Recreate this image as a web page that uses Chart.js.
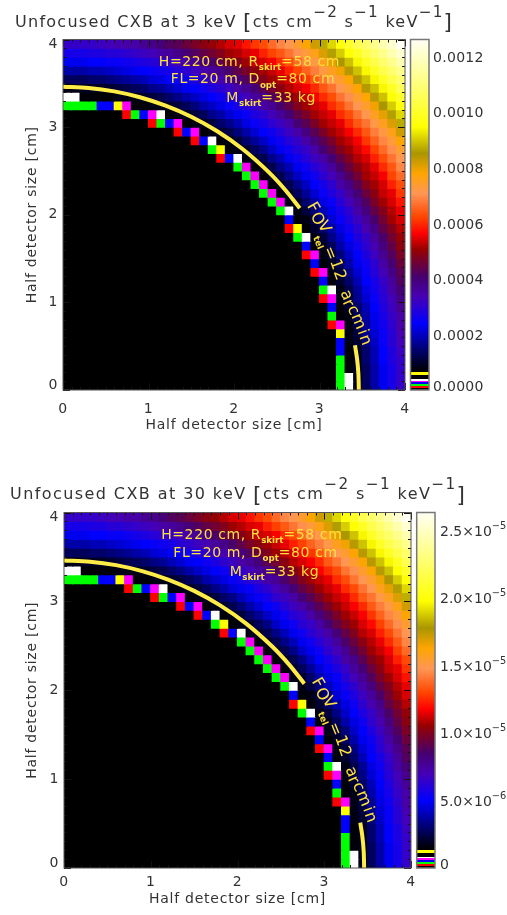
<!DOCTYPE html>
<html>
<head>
<meta charset="utf-8">
<title>Unfocused CXB</title>
<script src="https://cdn.jsdelivr.net/npm/chart.js@4"></script>
<style>
html, body { margin: 0; padding: 0; background: #fff; }
body { position: relative; width: 507px; height: 915px; overflow: hidden; }
canvas { position: absolute; display: block; }
</style>
</head>
<body>
<canvas id="heat3"></canvas>
<canvas id="bar3"></canvas>
<canvas id="heat30"></canvas>
<canvas id="bar30"></canvas>
<script>
// cell centres and edges of the detector map, cm
var cellCenters = [0.05,0.15,0.25,0.35,0.45,0.55,0.65,0.75,0.85,0.95,1.05,1.15,1.25,1.35,1.45,1.55,1.65,1.75,1.85,1.95,2.05,2.15,2.25,2.35,2.45,2.55,2.65,2.75,2.85,2.95,3.05,3.15,3.25,3.35,3.45,3.55,3.65,3.75,3.85,3.95];
var rowEdges = [4,3.9,3.8,3.7,3.6,3.5,3.4,3.3,3.2,3.1,3,2.9,2.8,2.7,2.6,2.5,2.4,2.3,2.2,2.1,2,1.9,1.8,1.7,1.6,1.5,1.4,1.3,1.2,1.1,1,0.9,0.8,0.7,0.6,0.5,0.4,0.3,0.2,0.1,0];

// map at 3 keV, top row first, in units of 1e-5
var cxb3Unit = 1e-5;
var cxb3Max = 0.00126;
var cxb3 = [
[31,31,31,31,32,33,34,35,35,37,38,40,42,43,45,47,49,50,52,54,55,58,61,63,66,69,71,74,78,82,87,91,96,100,105,108,112,117,121,126],
[27,27,27,28,28,29,29,30,31,32,33,35,36,38,40,42,44,46,48,51,52,54,55,59,62,64,67,70,73,76,81,86,90,95,99,104,108,112,117,121],
[23,23,23,24,24,25,25,26,27,28,29,30,31,33,35,37,39,41,44,46,48,51,53,54,56,60,63,66,69,72,75,80,85,89,94,99,104,108,112,117],
[18,18,18,19,19,20,21,22,23,24,25,26,27,29,30,32,34,36,38,41,44,47,49,51,53,55,59,62,65,68,72,75,79,84,89,94,99,104,108,112],
[13,13,13,14,14,15,16,17,18,19,21,22,24,25,26,28,30,31,34,36,39,42,45,48,51,52,54,57,61,64,67,71,74,78,84,89,94,99,104,108],
[8,8,9,9,9,10,11,12,13,14,16,17,19,21,23,24,26,28,30,32,35,37,40,43,46,49,52,54,56,60,64,67,71,74,78,84,89,94,99,105],
[3.7,3.7,7,7,7,7,8,8,8,10,11,12,14,16,18,20,22,24,26,28,30,33,36,38,42,45,48,51,53,56,60,63,67,70,74,78,84,89,95,100],
[1.8,1.8,1.8,1.8,2.5,2.5,5.9,3,7,7,8,8,10,11,13,15,18,20,22,25,27,29,31,35,37,41,44,48,51,53,55,60,63,67,71,74,79,85,90,96],
[0,0,0,0,0,0,0,1.2,1.8,2.5,3,3.7,7,8,9,11,13,16,18,21,23,25,28,30,33,36,40,44,47,51,53,55,60,63,67,71,75,80,86,91],
[0,0,0,0,0,0,0,0,0,0,1.2,1.8,2.5,3,7,8,9,11,14,16,19,22,25,27,30,32,35,40,43,47,51,53,55,60,64,67,72,75,81,87],
[0,0,0,0,0,0,0,0,0,0,0,0,0,1.2,2.5,3,7,8,10,12,15,18,21,24,26,29,32,35,39,43,47,51,53,56,60,64,68,72,76,82],
[0,0,0,0,0,0,0,0,0,0,0,0,0,0,0,1.2,2.5,3.7,7,8,11,14,17,20,23,26,29,31,35,39,43,47,51,53,56,61,65,69,73,78],
[0,0,0,0,0,0,0,0,0,0,0,0,0,0,0,0,0,1.8,5.9,7,8,10,13,16,20,23,26,29,31,35,40,44,48,51,54,57,62,66,70,74],
[0,0,0,0,0,0,0,0,0,0,0,0,0,0,0,0,0,0,1.2,2.5,3.7,8,10,12,16,19,23,26,29,32,35,40,44,48,52,54,59,63,67,71],
[0,0,0,0,0,0,0,0,0,0,0,0,0,0,0,0,0,0,0,0,1.8,3,7,9,12,16,19,23,26,29,32,36,41,45,49,52,55,60,64,69],
[0,0,0,0,0,0,0,0,0,0,0,0,0,0,0,0,0,0,0,0,0,1.8,3,7,9,12,16,20,23,26,30,33,37,42,46,51,53,56,62,66],
[0,0,0,0,0,0,0,0,0,0,0,0,0,0,0,0,0,0,0,0,0,0,1.8,3,7,9,12,16,20,24,27,30,35,38,43,48,51,54,59,63],
[0,0,0,0,0,0,0,0,0,0,0,0,0,0,0,0,0,0,0,0,0,0,0,1.8,3,7,10,13,17,21,25,28,31,36,40,45,49,53,55,61],
[0,0,0,0,0,0,0,0,0,0,0,0,0,0,0,0,0,0,0,0,0,0,0,0,1.8,3,8,10,14,18,22,25,29,33,37,42,47,51,54,58],
[0,0,0,0,0,0,0,0,0,0,0,0,0,0,0,0,0,0,0,0,0,0,0,0,0,1.8,3.7,8,11,15,19,23,27,30,35,39,44,48,52,55],
[0,0,0,0,0,0,0,0,0,0,0,0,0,0,0,0,0,0,0,0,0,0,0,0,0,0,2.5,7,8,12,16,21,25,28,32,36,41,46,51,54],
[0,0,0,0,0,0,0,0,0,0,0,0,0,0,0,0,0,0,0,0,0,0,0,0,0,0,1.2,5.9,7,10,14,18,22,26,30,34,38,44,48,52],
[0,0,0,0,0,0,0,0,0,0,0,0,0,0,0,0,0,0,0,0,0,0,0,0,0,0,0,1.8,3.7,8,11,16,20,24,28,31,36,41,46,50],
[0,0,0,0,0,0,0,0,0,0,0,0,0,0,0,0,0,0,0,0,0,0,0,0,0,0,0,0,2.5,7,9,13,18,22,26,30,34,39,44,49],
[0,0,0,0,0,0,0,0,0,0,0,0,0,0,0,0,0,0,0,0,0,0,0,0,0,0,0,0,1.2,3,8,11,15,20,24,28,32,37,42,47],
[0,0,0,0,0,0,0,0,0,0,0,0,0,0,0,0,0,0,0,0,0,0,0,0,0,0,0,0,0,2.5,7,9,13,18,23,26,30,35,40,45],
[0,0,0,0,0,0,0,0,0,0,0,0,0,0,0,0,0,0,0,0,0,0,0,0,0,0,0,0,0,1.2,3,8,11,16,21,25,29,33,38,43],
[0,0,0,0,0,0,0,0,0,0,0,0,0,0,0,0,0,0,0,0,0,0,0,0,0,0,0,0,0,0,2.5,7,10,14,19,24,27,31,36,42],
[0,0,0,0,0,0,0,0,0,0,0,0,0,0,0,0,0,0,0,0,0,0,0,0,0,0,0,0,0,0,1.8,3.7,8,12,17,22,26,30,35,40],
[0,0,0,0,0,0,0,0,0,0,0,0,0,0,0,0,0,0,0,0,0,0,0,0,0,0,0,0,0,0,1.2,3,8,11,16,21,25,29,33,38],
[0,0,0,0,0,0,0,0,0,0,0,0,0,0,0,0,0,0,0,0,0,0,0,0,0,0,0,0,0,0,0,2.5,7,10,14,19,24,28,32,37],
[0,0,0,0,0,0,0,0,0,0,0,0,0,0,0,0,0,0,0,0,0,0,0,0,0,0,0,0,0,0,0,1.8,7,8,13,18,23,27,31,35],
[0,0,0,0,0,0,0,0,0,0,0,0,0,0,0,0,0,0,0,0,0,0,0,0,0,0,0,0,0,0,0,1.2,3,8,12,17,22,26,30,35],
[0,0,0,0,0,0,0,0,0,0,0,0,0,0,0,0,0,0,0,0,0,0,0,0,0,0,0,0,0,0,0,0,5.9,8,11,16,21,25,29,34],
[0,0,0,0,0,0,0,0,0,0,0,0,0,0,0,0,0,0,0,0,0,0,0,0,0,0,0,0,0,0,0,0,2.5,8,10,15,20,25,29,33],
[0,0,0,0,0,0,0,0,0,0,0,0,0,0,0,0,0,0,0,0,0,0,0,0,0,0,0,0,0,0,0,0,2.5,7,9,14,19,24,28,32],
[0,0,0,0,0,0,0,0,0,0,0,0,0,0,0,0,0,0,0,0,0,0,0,0,0,0,0,0,0,0,0,0,1.8,7,9,14,19,24,28,31],
[0,0,0,0,0,0,0,0,0,0,0,0,0,0,0,0,0,0,0,0,0,0,0,0,0,0,0,0,0,0,0,0,1.8,7,9,13,18,23,27,31],
[0,0,0,0,0,0,0,0,0,0,0,0,0,0,0,0,0,0,0,0,0,0,0,0,0,0,0,0,0,0,0,0,1.8,3.7,8,13,18,23,27,31],
[0,0,0,0,0,0,0,0,0,0,0,0,0,0,0,0,0,0,0,0,0,0,0,0,0,0,0,0,0,0,0,0,1.8,3.7,8,13,18,23,27,31]
];

// map at 30 keV, top row first, in units of 1e-7
var cxb30Unit = 1e-7;
var cxb30Max = 2.63e-5;
var cxb30 = [
[65,65,65,65,67,69,71,73,73,77,79,83,88,90,94,98,102,104,109,113,115,121,127,131,138,144,148,154,163,171,182,190,200,209,219,225,234,244,253,263],
[56,56,56,58,58,61,61,63,65,67,69,73,75,79,83,88,92,96,100,106,109,113,115,123,129,134,140,146,152,159,169,179,188,198,207,217,225,234,244,253],
[48,48,48,50,50,52,52,54,56,58,61,63,65,69,73,77,81,86,92,96,100,106,111,113,117,125,131,138,144,150,157,167,177,186,196,207,217,225,234,244],
[38,38,38,40,40,42,44,46,48,50,52,54,56,61,63,67,71,75,79,86,92,98,102,106,111,115,123,129,136,142,150,157,165,175,186,196,207,217,225,234],
[27,27,27,29,29,31,33,35,38,40,44,46,50,52,54,58,63,65,71,75,81,88,94,100,106,109,113,119,127,134,140,148,154,163,175,186,196,207,217,225],
[17,17,19,19,19,21,23,25,27,29,33,35,40,44,48,50,54,58,63,67,73,77,83,90,96,102,109,113,117,125,134,140,148,154,163,175,186,196,207,219],
[7.7,7.7,15,15,15,15,17,17,17,21,23,25,29,33,38,42,46,50,54,58,63,69,75,79,88,94,100,106,111,117,125,131,140,146,154,163,175,186,198,209],
[3.8,3.8,3.8,3.8,5.2,5.2,12.3,6.3,15,15,17,17,21,23,27,31,38,42,46,52,56,61,65,73,77,86,92,100,106,111,115,125,131,140,148,154,165,177,188,200],
[0,0,0,0,0,0,0,2.5,3.8,5.2,6.3,7.7,15,17,19,23,27,33,38,44,48,52,58,63,69,75,83,92,98,106,111,115,125,131,140,148,157,167,179,190],
[0,0,0,0,0,0,0,0,0,0,2.5,3.8,5.2,6.3,15,17,19,23,29,33,40,46,52,56,63,67,73,83,90,98,106,111,115,125,134,140,150,157,169,182],
[0,0,0,0,0,0,0,0,0,0,0,0,0,2.5,5.2,6.3,15,17,21,25,31,38,44,50,54,61,67,73,81,90,98,106,111,117,125,134,142,150,159,171],
[0,0,0,0,0,0,0,0,0,0,0,0,0,0,0,2.5,5.2,7.7,15,17,23,29,35,42,48,54,61,65,73,81,90,98,106,111,117,127,136,144,152,163],
[0,0,0,0,0,0,0,0,0,0,0,0,0,0,0,0,0,3.8,12.3,15,17,21,27,33,42,48,54,61,65,73,83,92,100,106,113,119,129,138,146,154],
[0,0,0,0,0,0,0,0,0,0,0,0,0,0,0,0,0,0,2.5,5.2,7.7,17,21,25,33,40,48,54,61,67,73,83,92,100,109,113,123,131,140,148],
[0,0,0,0,0,0,0,0,0,0,0,0,0,0,0,0,0,0,0,0,3.8,6.3,15,19,25,33,40,48,54,61,67,75,86,94,102,109,115,125,134,144],
[0,0,0,0,0,0,0,0,0,0,0,0,0,0,0,0,0,0,0,0,0,3.8,6.3,15,19,25,33,42,48,54,63,69,77,88,96,106,111,117,129,138],
[0,0,0,0,0,0,0,0,0,0,0,0,0,0,0,0,0,0,0,0,0,0,3.8,6.3,15,19,25,33,42,50,56,63,73,79,90,100,106,113,123,131],
[0,0,0,0,0,0,0,0,0,0,0,0,0,0,0,0,0,0,0,0,0,0,0,3.8,6.3,15,21,27,35,44,52,58,65,75,83,94,102,111,115,127],
[0,0,0,0,0,0,0,0,0,0,0,0,0,0,0,0,0,0,0,0,0,0,0,0,3.8,6.3,17,21,29,38,46,52,61,69,77,88,98,106,113,121],
[0,0,0,0,0,0,0,0,0,0,0,0,0,0,0,0,0,0,0,0,0,0,0,0,0,3.8,7.7,17,23,31,40,48,56,63,73,81,92,100,109,115],
[0,0,0,0,0,0,0,0,0,0,0,0,0,0,0,0,0,0,0,0,0,0,0,0,0,0,5.2,15,17,25,33,44,52,58,67,75,86,96,106,113],
[0,0,0,0,0,0,0,0,0,0,0,0,0,0,0,0,0,0,0,0,0,0,0,0,0,0,2.5,12.3,15,21,29,38,46,54,63,71,79,92,100,109],
[0,0,0,0,0,0,0,0,0,0,0,0,0,0,0,0,0,0,0,0,0,0,0,0,0,0,0,3.8,7.7,17,23,33,42,50,58,65,75,86,96,104],
[0,0,0,0,0,0,0,0,0,0,0,0,0,0,0,0,0,0,0,0,0,0,0,0,0,0,0,0,5.2,15,19,27,38,46,54,63,71,81,92,102],
[0,0,0,0,0,0,0,0,0,0,0,0,0,0,0,0,0,0,0,0,0,0,0,0,0,0,0,0,2.5,6.3,17,23,31,42,50,58,67,77,88,98],
[0,0,0,0,0,0,0,0,0,0,0,0,0,0,0,0,0,0,0,0,0,0,0,0,0,0,0,0,0,5.2,15,19,27,38,48,54,63,73,83,94],
[0,0,0,0,0,0,0,0,0,0,0,0,0,0,0,0,0,0,0,0,0,0,0,0,0,0,0,0,0,2.5,6.3,17,23,33,44,52,61,69,79,90],
[0,0,0,0,0,0,0,0,0,0,0,0,0,0,0,0,0,0,0,0,0,0,0,0,0,0,0,0,0,0,5.2,15,21,29,40,50,56,65,75,88],
[0,0,0,0,0,0,0,0,0,0,0,0,0,0,0,0,0,0,0,0,0,0,0,0,0,0,0,0,0,0,3.8,7.7,17,25,35,46,54,63,73,83],
[0,0,0,0,0,0,0,0,0,0,0,0,0,0,0,0,0,0,0,0,0,0,0,0,0,0,0,0,0,0,2.5,6.3,17,23,33,44,52,61,69,79],
[0,0,0,0,0,0,0,0,0,0,0,0,0,0,0,0,0,0,0,0,0,0,0,0,0,0,0,0,0,0,0,5.2,15,21,29,40,50,58,67,77],
[0,0,0,0,0,0,0,0,0,0,0,0,0,0,0,0,0,0,0,0,0,0,0,0,0,0,0,0,0,0,0,3.8,15,17,27,38,48,56,65,73],
[0,0,0,0,0,0,0,0,0,0,0,0,0,0,0,0,0,0,0,0,0,0,0,0,0,0,0,0,0,0,0,2.5,6.3,17,25,35,46,54,63,73],
[0,0,0,0,0,0,0,0,0,0,0,0,0,0,0,0,0,0,0,0,0,0,0,0,0,0,0,0,0,0,0,0,12.3,17,23,33,44,52,61,71],
[0,0,0,0,0,0,0,0,0,0,0,0,0,0,0,0,0,0,0,0,0,0,0,0,0,0,0,0,0,0,0,0,5.2,17,21,31,42,52,61,69],
[0,0,0,0,0,0,0,0,0,0,0,0,0,0,0,0,0,0,0,0,0,0,0,0,0,0,0,0,0,0,0,0,5.2,15,19,29,40,50,58,67],
[0,0,0,0,0,0,0,0,0,0,0,0,0,0,0,0,0,0,0,0,0,0,0,0,0,0,0,0,0,0,0,0,3.8,15,19,29,40,50,58,65],
[0,0,0,0,0,0,0,0,0,0,0,0,0,0,0,0,0,0,0,0,0,0,0,0,0,0,0,0,0,0,0,0,3.8,15,19,27,38,48,56,65],
[0,0,0,0,0,0,0,0,0,0,0,0,0,0,0,0,0,0,0,0,0,0,0,0,0,0,0,0,0,0,0,0,3.8,7.7,17,27,38,48,56,65],
[0,0,0,0,0,0,0,0,0,0,0,0,0,0,0,0,0,0,0,0,0,0,0,0,0,0,0,0,0,0,0,0,3.8,7.7,17,27,38,48,56,65]
];

// the 12 arcmin field of view arc, cm
var fovArcX = [0,0.3,0.6,0.9,1.2,1.5,1.8,2.1,2.4,2.6,2.77];
var fovArcY = [3.46,3.447,3.408,3.341,3.245,3.118,2.955,2.75,2.492,2.283,2.074];
var fovEndX = [3.415,3.44,3.455,3.46];
var fovEndY = [0.51,0.35,0.18,0];

var detectorTicks = [0,1,2,3,4];
var detectorMinorTicks = [0.1,0.2,0.3,0.4,0.5,0.6,0.7,0.8,0.9,1.1,1.2,1.3,1.4,1.5,1.6,1.7,1.8,1.9,2.1,2.2,2.3,2.4,2.5,2.6,2.7,2.8,2.9,3.1,3.2,3.3,3.4,3.5,3.6,3.7,3.8,3.9];

var cb3Ticks = [0,0.0002,0.0004,0.0006,0.0008,0.0010,0.0012];
var cb3Labels = ['0.0000','0.0002','0.0004','0.0006','0.0008','0.0010','0.0012'];
var cb30Ticks = [0,5e-6,1e-5,1.5e-5,2e-5,2.5e-5];
var cb30Labels = ['0','5.0×10','1.0×10','1.5×10','2.0×10','2.5×10'];
var cb30Exponents = ['','−6','−5','−5','−5','−5'];

// colour table, position as fraction of the bar
var cmapBands = [
  [0,0.007,'#000000'],[0.007,0.0115,'#ff0000'],[0.0115,0.0175,'#00ff00'],[0.0175,0.0214,'#0000ff'],
  [0.0214,0.027,'#ff00ff'],[0.027,0.0315,'#ffffff'],[0.0315,0.042,'#000000'],[0.042,0.0516,'#ffff00']
];
var cmapStops = [
  [0.0516,0,0,0],[0.076,0,0,40],[0.124,0,0,130],[0.19,0,0,255],[0.266,70,0,180],[0.323,70,0,110],
  [0.40,150,0,0],[0.447,255,0,0],[0.494,255,70,0],[0.561,255,150,85],[0.618,255,165,0],[0.675,170,150,0],
  [0.751,255,255,0],[0.88,255,255,130],[1,255,255,245]
];

var textFont = 'DejaVu Sans';
var textColor = '#333333';
var noteColor = '#ffe13c';

var note1 = [['H=220 cm, R',''],['skirt','sub'],['=58 cm','']];
var note2 = [['FL=20 m, D',''],['opt','sub'],['=80 cm','']];
var note3 = [['M',''],['skirt','sub'],['=33 kg','']];
// rotated label following the arc: text, x cm, y cm, degrees, px
var fovGlyphs = [
  ['F',2.92,2.08,60,16],['O',2.97,1.95,62,16],['V',3.05,1.86,62,16],['tel',2.98,1.68,68,9],
  ['=',3.12,1.56,68,16],['1',3.19,1.43,70,16],['2',3.23,1.31,70,16],
  ['a',3.31,1.08,66,16],['r',3.33,0.99,66,16],['c',3.39,0.91,66,16],['m',3.45,0.78,68,16],['i',3.50,0.66,70,16],['n',3.53,0.57,70,16]
];

function cellColor(frac) {
  for (var b = 0; b < cmapBands.length; b++) {
    if (frac < cmapBands[b][1]) return cmapBands[b][2];
  }
  for (var i = 1; i < cmapStops.length; i++) {
    var s0 = cmapStops[i - 1], s1 = cmapStops[i];
    if (frac <= s1[0]) {
      var t = (frac - s0[0]) / (s1[0] - s0[0]);
      return 'rgb(' + Math.round(s0[1] + t * (s1[1] - s0[1])) + ',' + Math.round(s0[2] + t * (s1[2] - s0[2])) + ',' + Math.round(s0[3] + t * (s1[3] - s0[3])) + ')';
    }
  }
  return 'rgb(255,255,245)';
}

// draws text with raised and lowered pieces
function drawRich(ctx, parts, x, y, size, color, spacing) {
  ctx.save();
  ctx.fillStyle = color;
  ctx.textAlign = 'left';
  ctx.textBaseline = 'alphabetic';
  parts.forEach(function (p) {
    var s = size, dy = 0, gap = spacing;
    if (p[1] === 'sub') { s = size * 0.62; dy = size * 0.3; gap = 0; ctx.font = 'bold ' + s + 'px "' + textFont + '"'; }
    else if (p[1] === 'sup') { s = size * 0.95; dy = -size * 0.62; ctx.font = s + 'px "' + textFont + '"'; }
    else if (p[1] === 'exp') { s = size * 0.7; dy = -size * 0.5; gap = 0; ctx.font = s + 'px "' + textFont + '"'; }
    else if (p[1] === 'big') { s = size * 1.35; dy = size * 0.16; ctx.font = s + 'px "' + textFont + '"'; }
    else ctx.font = s + 'px "' + textFont + '"';
    ctx.letterSpacing = gap + 'px';
    ctx.fillText(p[0], x, y + dy);
    x += ctx.measureText(p[0]).width;
  });
  ctx.restore();
}

function clampLabel(y, area) {
  return Math.max(area.top + 5, Math.min(area.bottom - 5, y));
}

function heatPlugin(titleParts, titleX, titleY, titleSpacing) {
  return {
    id: 'heatDecor',
    beforeDraw: function (chart) { chart.ctx.letterSpacing = '0.75px'; },
    afterDraw: function (chart) {
      var ctx = chart.ctx, a = chart.chartArea, xs = chart.scales.x, ys = chart.scales.y;
      ctx.save();
      // notes and rotated label in data coordinates
      drawRich(ctx, note1, xs.getPixelForValue(1.12), ys.getPixelForValue(3.70), 14, noteColor, 0.6);
      drawRich(ctx, note2, xs.getPixelForValue(1.26), ys.getPixelForValue(3.50), 14, noteColor, 0.6);
      drawRich(ctx, note3, xs.getPixelForValue(1.91), ys.getPixelForValue(3.285), 14, noteColor, 0.6);
      fovGlyphs.forEach(function (g) {
        ctx.save();
        ctx.translate(xs.getPixelForValue(g[1]), ys.getPixelForValue(g[2]));
        ctx.rotate(g[3] * Math.PI / 180);
        ctx.font = (g[4] < 12 ? 'bold ' : '') + g[4] + 'px "' + textFont + '"';
        ctx.letterSpacing = '0px';
        ctx.fillStyle = noteColor;
        ctx.textAlign = 'center';
        ctx.textBaseline = 'middle';
        ctx.fillText(g[0], 0, 0);
        ctx.restore();
      });
      // ticks point inwards on all four sides
      ctx.strokeStyle = '#111';
      ctx.lineWidth = 1;
      ctx.beginPath();
      function tickAt(v, len) {
        var px = Math.round(xs.getPixelForValue(v)) + 0.5, py = Math.round(ys.getPixelForValue(v)) + 0.5;
        ctx.moveTo(px, a.bottom); ctx.lineTo(px, a.bottom - len);
        ctx.moveTo(px, a.top); ctx.lineTo(px, a.top + len);
        ctx.moveTo(a.left, py); ctx.lineTo(a.left + len, py);
        ctx.moveTo(a.right, py); ctx.lineTo(a.right - len, py);
      }
      detectorMinorTicks.forEach(function (v) { tickAt(v, 3); });
      detectorTicks.forEach(function (v) { tickAt(v, 7); });
      ctx.stroke();
      ctx.strokeStyle = '#555';
      ctx.strokeRect(a.left, a.top, a.right - a.left, a.bottom - a.top);
      // y tick labels stay inside the frame height
      ctx.font = '14px "' + textFont + '"';
      ctx.letterSpacing = '0px';
      ctx.fillStyle = textColor;
      ctx.textAlign = 'right';
      ctx.textBaseline = 'middle';
      detectorTicks.forEach(function (v) {
        ctx.fillText(String(v), a.left - 5.5, clampLabel(ys.getPixelForValue(v), a));
      });
      ctx.restore();
      drawRich(ctx, titleParts, titleX, titleY, 16, textColor, titleSpacing);
    }
  };
}

function makeHeat(id, rows, unit, max, box, titleParts, titleX, titleY, titleSpacing, tickPad, xTitlePad) {
  var canvas = document.getElementById(id);
  canvas.width = 507; canvas.height = box.height;
  canvas.style.left = '0px'; canvas.style.top = box.top + 'px';
  canvas.style.width = '507px'; canvas.style.height = box.height + 'px';
  var datasets = rows.map(function (row, t) {
    return {
      data: row.map(function (v, j) { return { x: cellCenters[j], y: [rowEdges[t + 1], rowEdges[t]] }; }),
      backgroundColor: row.map(function (v) { return cellColor(v * unit / max); }),
      grouped: false, barPercentage: 1, categoryPercentage: 1, borderWidth: 0, inflateAmount: 0.6
    };
  });
  datasets.push({ type: 'line', order: -1, data: fovArcX.map(function (x, i) { return { x: x, y: fovArcY[i] }; }),
    borderColor: '#ffec46', borderWidth: 4, pointRadius: 0, tension: 0.3 });
  datasets.push({ type: 'line', order: -1, data: fovEndX.map(function (x, i) { return { x: x, y: fovEndY[i] }; }),
    borderColor: '#ffec46', borderWidth: 4, pointRadius: 0, tension: 0.3 });
  return new Chart(canvas, {
    type: 'bar',
    data: { datasets: datasets },
    plugins: [heatPlugin(titleParts, titleX, titleY, titleSpacing)],
    options: {
      responsive: false, animation: false, devicePixelRatio: 1,
      layout: { autoPadding: false, padding: { left: 0, top: box.areaTop, right: 507 - box.areaRight, bottom: 0 } },
      plugins: { legend: { display: false }, tooltip: { enabled: false }, title: { display: false } },
      scales: {
        x: {
          type: 'linear', min: 0, max: 4, offset: false,
          grid: { display: false }, border: { display: false },
          afterFit: function (s) { s.height = box.height - box.areaBottom; },
          ticks: { stepSize: 1, maxRotation: 0, autoSkip: false, padding: tickPad, color: textColor, font: { family: textFont, size: 14 } },
          title: { display: true, text: 'Half detector size [cm]', color: textColor, font: { family: textFont, size: 14 }, padding: { top: 0, bottom: xTitlePad } }
        },
        y: {
          type: 'linear', min: 0, max: 4, stacked: false,
          grid: { display: false }, border: { display: false },
          afterFit: function (s) { s.width = box.areaLeft; },
          ticks: { display: false },
          title: { display: true, text: 'Half detector size [cm]', color: textColor, font: { family: textFont, size: 14 }, padding: { top: 24, bottom: 0 } }
        }
      }
    }
  });
}

function makeBar(id, max, range, ticks, labels, exponents, box) {
  var canvas = document.getElementById(id);
  canvas.width = box.width; canvas.height = box.height;
  canvas.style.left = box.left + 'px'; canvas.style.top = box.top + 'px';
  canvas.style.width = box.width + 'px'; canvas.style.height = box.height + 'px';
  return new Chart(canvas, {
    type: 'bar',
    data: {
      labels: [''],
      datasets: [{
        data: [range],
        barPercentage: 1, categoryPercentage: 1, borderWidth: 0,
        backgroundColor: function (c) {
          var a = c.chart.chartArea;
          if (!a) return '#000';
          var g = c.chart.ctx.createLinearGradient(0, a.bottom, 0, a.top);
          cmapBands.forEach(function (b) { g.addColorStop(b[0], b[2]); g.addColorStop(b[1], b[2]); });
          cmapStops.forEach(function (s) { g.addColorStop(s[0], 'rgb(' + s[1] + ',' + s[2] + ',' + s[3] + ')'); });
          return g;
        }
      }]
    },
    plugins: [{
      id: 'barDecor',
      afterDraw: function (chart) {
        var ctx = chart.ctx, a = chart.chartArea, ys = chart.scales.y;
        ctx.save();
        ctx.strokeStyle = '#777';
        ctx.lineWidth = 1.5;
        ctx.strokeRect(a.left, a.top, a.right - a.left, a.bottom - a.top);
        ctx.restore();
        ticks.forEach(function (v, i) {
          var y = clampLabel(ys.getPixelForValue(v), a) + 5.5;
          var parts = [[labels[i], '']];
          if (exponents[i]) parts.push([exponents[i], 'exp']);
          drawRich(ctx, parts, a.right + box.labelGap, y, 14, textColor, box.labelSpacing);
        });
      }
    }],
    options: {
      responsive: false, animation: false, devicePixelRatio: 1,
      layout: { autoPadding: false, padding: { left: box.areaLeft, top: box.areaTop, right: box.width - box.areaRight, bottom: box.height - box.areaBottom } },
      plugins: { legend: { display: false }, tooltip: { enabled: false } },
      scales: {
        x: { display: false },
        y: { display: false, min: 0, max: max }
      }
    }
  });
}

var title3 = [['Unfocused CXB at 3 keV ',''],['[','big'],['cts cm',''],['−2','sup'],[' s',''],['−1','sup'],[' keV',''],['−1','sup'],[']','big']];
var title30 = [['Unfocused CXB at 30 keV ',''],['[','big'],['cts cm',''],['−2','sup'],[' s',''],['−1','sup'],[' keV',''],['−1','sup'],[']','big']];

makeHeat('heat3', cxb3, cxb3Unit, cxb3Max, { top: 0, height: 450, areaLeft: 63, areaRight: 405, areaTop: 39.5, areaBottom: 390 }, title3, 15, 26.7, 1.27, 2.5, 16.6);
makeBar('bar3', cxb3Max, [0, cxb3Max], cb3Ticks, cb3Labels, ['', '', '', '', '', '', ''], { left: 405, top: 0, width: 102, height: 450, areaLeft: 5.5, areaRight: 24, areaTop: 39.5, areaBottom: 390, labelGap: 4, labelSpacing: 0.3 });
makeHeat('heat30', cxb30, cxb30Unit, cxb30Max, { top: 455, height: 460, areaLeft: 64, areaRight: 411, areaTop: 57.5, areaBottom: 413 }, title30, 10, 44.3, 1.42, -2, 7.6);
makeBar('bar30', cxb30Max, [0, cxb30Max], cb30Ticks, cb30Labels, cb30Exponents, { left: 412, top: 455, width: 95, height: 460, areaLeft: 4.7, areaRight: 23, areaTop: 57.5, areaBottom: 413, labelGap: 5, labelSpacing: 0 });
</script>
</body>
</html>
